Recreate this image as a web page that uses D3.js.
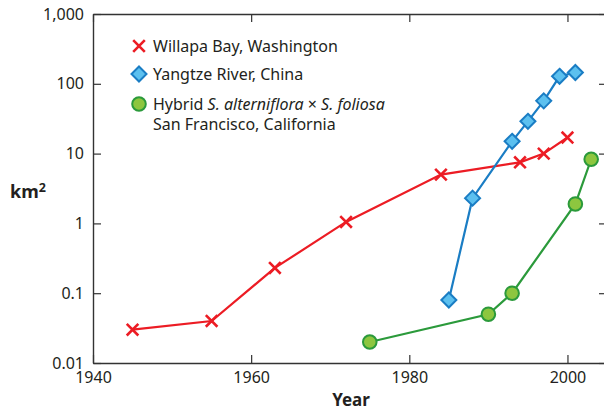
<!DOCTYPE html>
<html>
<head>
<meta charset="utf-8">
<script src="https://cdn.jsdelivr.net/npm/d3@7"></script>
<style>
  body { margin: 0; background: #fff; }
  svg { display: block; font-family: "Noto Sans", sans-serif; }
</style>
</head>
<body>
<script>
// data
var willapaYears = [1945, 1955, 1963, 1972, 1984, 1994, 1997, 2000];
var willapaArea  = [0.03, 0.04, 0.23, 1.05, 5, 7.5, 10, 17];

var yangtzeYears = [1985, 1988, 1993, 1995, 1997, 1999, 2001];
var yangtzeArea  = [0.08, 2.3, 15, 29, 57, 128, 145];

var hybridYears = [1975, 1990, 1993, 2001, 2003];
var hybridArea  = [0.02, 0.05, 0.1, 1.9, 8.3];

var xTicks = [1940, 1960, 1980, 2000];
var yTicks = [0.01, 0.1, 1, 10, 100, 1000];

var width = 604, height = 412;
var margin = {top: 14, left: 93, bottom: 49, right: -3};

var svg = d3.select("body").append("svg")
  .attr("width", width)
  .attr("height", height);

var x = d3.scaleLinear()
  .domain([1940, 2005])
  .range([margin.left, width - margin.right]);

var y = d3.scaleLog()
  .domain([0.01, 1000])
  .range([height - margin.bottom, margin.top]);

var axisColor = "#333";

// axes, ticks inward
var gx = svg.append("g")
  .attr("transform", "translate(0," + (height - margin.bottom) + ")")
  .call(d3.axisBottom(x).tickValues(xTicks).tickFormat(d3.format("d")).tickSizeInner(-8).tickSizeOuter(0).tickPadding(9));

var gxTop = svg.append("g")
  .attr("transform", "translate(0," + margin.top + ")")
  .call(d3.axisTop(x).tickValues(xTicks).tickFormat("").tickSizeInner(-8).tickSizeOuter(0));

var gy = svg.append("g")
  .attr("transform", "translate(" + margin.left + ",0)")
  .call(d3.axisLeft(y).tickValues(yTicks).tickFormat(d3.format(",")).tickSizeInner(-8).tickSizeOuter(0).tickPadding(9));

var gyRight = svg.append("g")
  .attr("transform", "translate(" + (width - margin.right) + ",0)")
  .call(d3.axisRight(y).tickValues(yTicks).tickFormat("").tickSizeInner(-8).tickSizeOuter(0));

[gx, gxTop, gy, gyRight].forEach(function(g) {
  g.select(".domain").attr("stroke", axisColor).attr("stroke-width", 1.4);
  g.selectAll(".tick line").attr("stroke", axisColor).attr("stroke-width", 1.2);
  g.selectAll(".tick text")
    .attr("fill", "#231f20")
    .style("font-size", "16px")
    .style("font-family", "Noto Sans, sans-serif");
});

// axis titles
svg.append("text")
  .attr("x", 351)
  .attr("y", 406)
  .attr("text-anchor", "middle")
  .attr("font-weight", "bold")
  .style("font-size", "17px")
  .attr("fill", "#231f20")
  .text("Year");

var km = svg.append("text")
  .attr("x", 10)
  .attr("y", 198)
  .attr("font-weight", "bold")
  .style("font-size", "18px")
  .attr("fill", "#231f20");
km.append("tspan").text("km");
km.append("tspan").attr("dy", -6).style("font-size", "12.5px").text("2");

// series
var red = "#ec1c24", blue = "#1a7dc4", blueFill = "#5cc0ef", green = "#2b9a3b", greenFill = "#8dc63f";

var line = d3.line()
  .x(function(d) { return x(d[0]); })
  .y(function(d) { return y(d[1]); });

var willapa = d3.zip(willapaYears, willapaArea);
var yangtze = d3.zip(yangtzeYears, yangtzeArea);
var hybrid  = d3.zip(hybridYears, hybridArea);

svg.append("path").datum(willapa).attr("d", line)
  .attr("fill", "none").attr("stroke", red).attr("stroke-width", 2.2);
svg.append("path").datum(hybrid).attr("d", line)
  .attr("fill", "none").attr("stroke", green).attr("stroke-width", 2.2);
svg.append("path").datum(yangtze).attr("d", line)
  .attr("fill", "none").attr("stroke", blue).attr("stroke-width", 2.2);

function drawCross(g, cx, cy) {
  var s = 5.8;
  g.append("path")
    .attr("d", "M" + (cx - s) + "," + (cy - s) + "L" + (cx + s) + "," + (cy + s) +
               "M" + (cx - s) + "," + (cy + s) + "L" + (cx + s) + "," + (cy - s))
    .attr("stroke", red).attr("stroke-width", 2.6).attr("fill", "none");
}
function drawDiamond(g, cx, cy) {
  var s = 7.5;
  g.append("path")
    .attr("d", "M" + cx + "," + (cy - s) + "L" + (cx + s) + "," + cy + "L" + cx + "," + (cy + s) + "L" + (cx - s) + "," + cy + "Z")
    .attr("fill", blueFill).attr("stroke", blue).attr("stroke-width", 2);
}
function drawCircle(g, cx, cy) {
  g.append("circle")
    .attr("cx", cx).attr("cy", cy).attr("r", 6.8)
    .attr("fill", greenFill).attr("stroke", green).attr("stroke-width", 2);
}

var marks = svg.append("g");
willapa.forEach(function(d) { drawCross(marks, x(d[0]), y(d[1])); });
hybrid.forEach(function(d) { drawCircle(marks, x(d[0]), y(d[1])); });
yangtze.forEach(function(d) { drawDiamond(marks, x(d[0]), y(d[1])); });

// legend
var leg = svg.append("g");
drawCross(leg, 139, 46);
drawDiamond(leg, 139, 74);
drawCircle(leg, 139, 104);

function legText(yy) {
  return leg.append("text")
    .attr("x", 153).attr("y", yy)
    .style("font-size", "16px")
    .attr("fill", "#231f20");
}
legText(51.5).text("Willapa Bay, Washington");
legText(79.5).text("Yangtze River, China");
var t3 = legText(109.5);
t3.append("tspan").text("Hybrid ");
t3.append("tspan").style("font-style", "italic").text("S. alterniflora");
t3.append("tspan").text(" \u00d7 ");
t3.append("tspan").style("font-style", "italic").text("S. foliosa");
legText(129.5).text("San Francisco, California");
</script>
</body>
</html>
